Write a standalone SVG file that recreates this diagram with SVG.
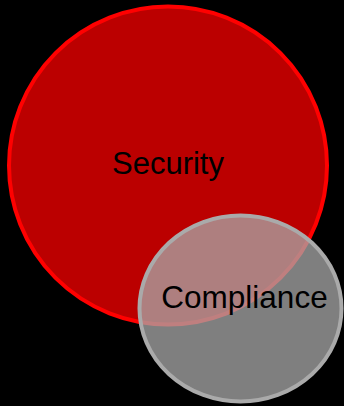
<svg xmlns="http://www.w3.org/2000/svg" width="344" height="406" viewBox="0 0 344 406">
<style>
.lbl{font-family:"Liberation Sans",Arial,sans-serif;font-size:31px;fill:#000;text-anchor:middle}
</style>
<rect x="0" y="0" width="344" height="406" fill="#000"/>
<g id="security">
<circle cx="168" cy="165.5" r="159" fill="#bb0000" stroke="#ff0000" stroke-width="4"/>
<text class="lbl" x="168" y="174">Security</text>
</g>
<g id="compliance">
<ellipse cx="240.5" cy="308.5" rx="101" ry="93" fill="#aaaaaa" fill-opacity="0.75" stroke="#aaaaaa" stroke-width="4"/>
<text class="lbl" x="244.5" y="307.5" style="font-size:31.5px">Compliance</text>
</g>
<g id="connectors"/>
</svg>
